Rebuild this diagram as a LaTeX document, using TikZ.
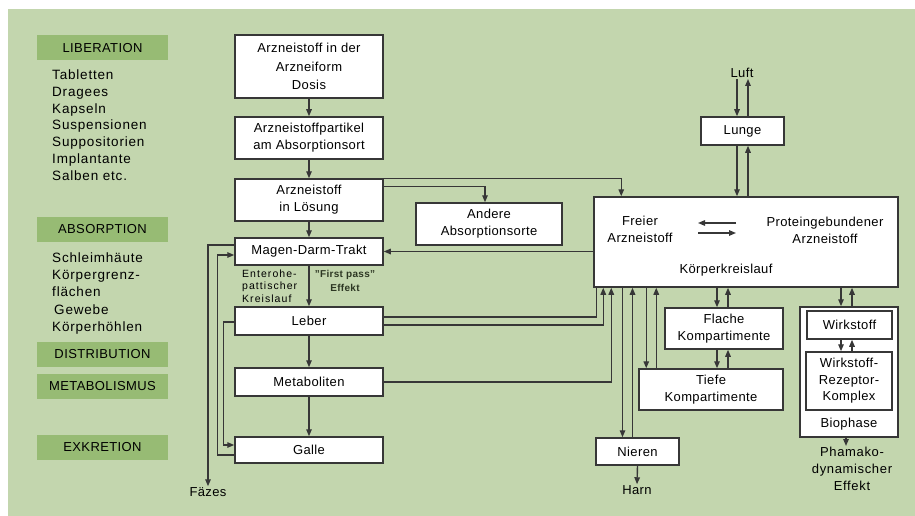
\documentclass[tikz,border=0pt]{standalone}
\usepackage{fontspec}
\setmainfont[LetterSpace=3]{Liberation Sans}
\usepackage{tikz}
\usetikzlibrary{arrows.meta, positioning}

\definecolor{bggreen}{RGB}{195,214,174}
\definecolor{phasegreen}{RGB}{151,187,116}
\definecolor{linegray}{RGB}{55,55,55}
\definecolor{passgreen}{RGB}{45,55,35}

\begin{document}
\begin{tikzpicture}[
  x=1pt, y=-1pt,
  font=\fontsize{13}{17}\selectfont,
  block/.style={rectangle, draw=linegray, line width=1.5pt, fill=white, align=center, inner sep=1pt},
  colblock/.style={block, minimum width=148pt},
  phase/.style={rectangle, fill=phasegreen, minimum width=131pt, minimum height=25pt, inner sep=0pt},
  txt/.style={align=center, inner sep=1pt},
  arrow/.style={-{Triangle[length=7pt,width=5.5pt]}, line width=1.4pt, draw=linegray},
  link/.style={line width=1.4pt, draw=linegray}
]
\useasboundingbox (0,0) rectangle (915,516);
\fill[white] (0,0) rectangle (915,516);
\fill[bggreen] (8,9) rectangle (915,516);

\node[phase] (liberation) at (102.5,48) {LIBERATION};
\node[phase] (absorption) at (102.5,229.5) {ABSORPTION};
\node[phase] (distribution) at (102.5,354.5) {DISTRIBUTION};
\node[phase] (metabolismus) at (102.5,386.5) {METABOLISMUS};
\node[phase] (exkretion) at (102.5,447.5) {EXKRETION};

\node[anchor=north west, align=left, inner sep=0pt, font=\fontsize{13.5}{16.8}\selectfont\addfontfeature{LetterSpace=6}]
  (formen) at (52,69.5) {Tabletten\\Dragees\\Kapseln\\Suspensionen\\Suppositorien\\Implantante\\Salben etc.};
\node[anchor=north west, align=left, inner sep=0pt, font=\fontsize{13.5}{17.2}\selectfont\addfontfeature{LetterSpace=6}]
  (orte) at (52,252.5) {Schleimhäute\\Körpergrenz-\\flächen\\\hspace{2pt}Gewebe\\Körperhöhlen};

\node[colblock, minimum height=63pt, font=\fontsize{13}{18.5}\selectfont] (dosis) at (309,66.5) {Arzneistoff in der\\Arzneiform\\Dosis};
\node[colblock, minimum height=42pt] (partikel) at (309,138) {Arzneistoffpartikel\\am Absorptionsort};
\node[colblock, minimum height=42pt] (loesung) at (309,200) {Arzneistoff\\in Lösung};
\node[colblock, minimum height=27pt] (mdt) at (309,251.5) {Magen-Darm-Trakt};
\node[colblock, minimum height=28pt] (leber) at (309,321) {Leber};
\node[colblock, minimum height=28pt] (metaboliten) at (309,382) {Metaboliten};
\node[colblock, minimum height=26pt] (galle) at (309,450) {Galle};
\node[block, minimum width=146pt, minimum height=42pt] (andere) at (489,224) {Andere\\Absorptionsorte};

\node[anchor=north west, align=left, inner sep=0pt, font=\fontsize{10.5}{12.5}\selectfont\addfontfeature{LetterSpace=10}]
  (entero) at (242,269.5) {Enterohe-\\pattischer\\Kreislauf};
\node[txt, font=\bfseries\fontsize{10}{14.5}\selectfont, text=passgreen] (firstpass) at (345,281) {"First pass"\\Effekt};

\node[block, minimum width=304pt, minimum height=90pt] (kreislauf) at (746,242) {};
\node[txt] (freier) at (640,229.5) {Freier\\Arzneistoff};
\node[txt] (gebunden) at (825,230.5) {Proteingebundener\\Arzneistoff};
\node[txt] (kklabel) at (726,270) {Körperkreislauf};
\coordinate (eqL) at (698,228);
\coordinate (eqR) at (736,228);

\node[block, minimum width=83pt, minimum height=28pt] (lunge) at (742.5,131) {Lunge};
\node[txt] (luft) at (742,73) {Luft};

\node[block, minimum width=118pt, minimum height=41pt] (flach) at (724,328.5) {Flache\\Kompartimente};
\node[block, minimum width=144pt, minimum height=41pt] (tief) at (711,389.5) {Tiefe\\Kompartimente};
\node[block, minimum width=98pt, minimum height=130pt] (biophase) at (849,372) {};
\node[block, minimum width=85pt, minimum height=28pt] (wirkstoff) at (849.5,325) {Wirkstoff};
\node[block, minimum width=86pt, minimum height=58pt, font=\fontsize{13}{16.5}\selectfont] (komplex) at (849,381) {Wirkstoff-\\Rezeptor-\\Komplex};
\node[txt] (biolabel) at (849,424) {Biophase};
\node[txt, anchor=north, font=\fontsize{13}{17}\selectfont\addfontfeature{LetterSpace=5}] (effekt) at (852,446) {Phamako-\\dynamischer\\Effekt};

\node[block, minimum width=83pt, minimum height=27pt] (nieren) at (637.5,451.5) {Nieren};
\node[txt] (harn) at (637,490) {Harn};
\node[txt] (faezes) at (208,492) {Fäzes};

\draw[arrow] (dosis) -- (partikel);
\draw[arrow] (partikel) -- (loesung);
\draw[arrow] (loesung) -- (mdt);
\draw[arrow] (mdt) -- (leber);
\draw[arrow] (leber) -- (metaboliten);
\draw[arrow] (metaboliten) -- (galle);

\draw[arrow] (loesung.north east) -| ([xshift=28pt]kreislauf.north west);
\draw[arrow] ([yshift=-8pt]loesung.north east) -| ([xshift=-4pt]andere.north);
\draw[arrow] (kreislauf.west |- mdt) -- (mdt.east);

\draw[arrow] ([yshift=6.5pt]mdt.west) -| (faezes.north);
\draw[arrow] ([yshift=-5pt]galle.west) -- ++(-17,0) |- ([yshift=-3.5pt]mdt.west);
\draw[arrow] ([yshift=-1pt]leber.west) -- ++(-11,0) |- ([yshift=5pt]galle.west);

\draw[link] ([yshift=4pt]leber.east) -| ([xshift=3pt]kreislauf.south west);
\draw[arrow] ([yshift=-4pt]leber.east) -| ([xshift=10pt]kreislauf.south west);
\draw[arrow] (metaboliten.east) -| ([xshift=18pt]kreislauf.south west);

\draw[arrow] ([xshift=-15pt]nieren.north |- kreislauf.south) -- ([xshift=-15pt]nieren.north);
\draw[arrow] ([xshift=-5pt]nieren.north) -- ([xshift=-5pt]nieren.north |- kreislauf.south);
\draw[arrow] (nieren.south) -- (harn.north);

\draw[arrow] ([xshift=8pt]tief.north west |- kreislauf.south) -- ([xshift=8pt]tief.north west);
\draw[arrow] ([xshift=18pt]tief.north west) -- ([xshift=18pt]tief.north west |- kreislauf.south);

\draw[arrow] ([xshift=-7pt]flach.north |- kreislauf.south) -- ([xshift=-7pt]flach.north);
\draw[arrow] ([xshift=4pt]flach.north) -- ([xshift=4pt]flach.north |- kreislauf.south);
\draw[arrow] ([xshift=-7pt]flach.south) -- ([xshift=-7pt]flach.south |- tief.north);
\draw[arrow] ([xshift=4pt]flach.south |- tief.north) -- ([xshift=4pt]flach.south);

\draw[arrow] ([xshift=-8pt]biophase.north |- kreislauf.south) -- ([xshift=-8pt]biophase.north);
\draw[arrow] ([xshift=3pt]biophase.north) -- ([xshift=3pt]biophase.north |- kreislauf.south);
\draw[arrow] ([xshift=-8.5pt]wirkstoff.south) -- ([xshift=-8.5pt]wirkstoff.south |- komplex.north);
\draw[arrow] ([xshift=2.5pt]wirkstoff.south |- komplex.north) -- ([xshift=2.5pt]wirkstoff.south);
\draw[arrow] ([xshift=-3pt]biophase.south) -- ([xshift=-3pt]biophase.south |- effekt.north);

\draw[arrow] ([xshift=-5.5pt]lunge.south) -- ([xshift=-5.5pt]lunge.south |- kreislauf.north);
\draw[arrow] ([xshift=5.5pt]lunge.south |- kreislauf.north) -- ([xshift=5.5pt]lunge.south);
\draw[arrow] ([xshift=-5.5pt]lunge.north |- luft.south) -- ([xshift=-5.5pt]lunge.north);
\draw[arrow] ([xshift=5.5pt]lunge.north) -- ([xshift=5.5pt]lunge.north |- luft.south);

\draw[arrow] ([yshift=5pt]eqR) -- ([yshift=5pt]eqL);
\draw[arrow] ([yshift=-5pt]eqL) -- ([yshift=-5pt]eqR);
\end{tikzpicture}
\end{document}
